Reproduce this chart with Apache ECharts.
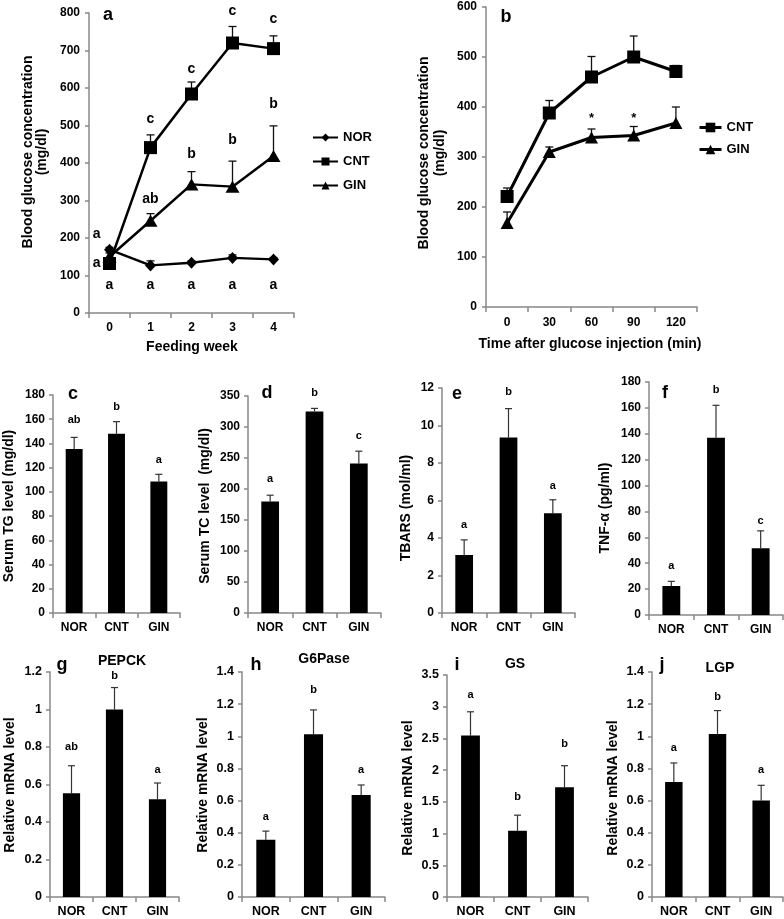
<!DOCTYPE html>
<html><head><meta charset="utf-8">
<script src="https://cdn.jsdelivr.net/npm/echarts@6/dist/echarts.min.js"></script>
<style>html,body{margin:0;padding:0;background:#fff}#c{width:784px;height:919px}</style>
</head><body><div id="c"></div><script>
// ---------- Panel a: blood glucose over feeding weeks ----------
const weeks = ['0', '1', '2', '3', '4'];
const aNOR = [169, 127, 134, 147, 143];
const aNORerr = [6, 12, 5, 8, 5];
const aCNT = [132, 441, 584, 720, 705];
const aCNTerr = [8, 34, 32, 44, 34];
const aGIN = [150, 246, 343, 337, 419];
const aGINerr = [10, 19, 34, 68, 80];
const aLetterText = ['a', 'a', 'a', 'a', 'a', 'a', 'a', 'c', 'ab', 'c', 'b', 'c', 'b', 'c', 'b'];
const aLetterCat = [0, 0, 0, 1, 2, 3, 4, 1, 1, 2, 2, 3, 3, 4, 4];
const aLetterVal = [209, 132, 74, 74, 74, 74, 74, 517, 304, 651, 423, 804, 461, 784, 557];
const aLetterSide = ['L', 'L', 'C', 'C', 'C', 'C', 'C', 'C', 'C', 'C', 'C', 'C', 'C', 'C', 'C'];

// ---------- Panel b: glucose tolerance ----------
const minutes = ['0', '30', '60', '90', '120'];
const bCNT = [221, 388, 460, 500, 471];
const bCNTerr = [17, 25, 41, 42, 12];
const bGIN = [168, 310, 339, 343, 368];
const bGINerr = [22, 10, 17, 18, 32];
const bStarCat = [2, 3];
const bStarVal = [378, 378];

// ---------- Bar panels ----------
const groups = ['NOR', 'CNT', 'GIN'];
const cVal = [135.5, 148, 108.5], cErr = [9.5, 10, 6], cLet = ['ab', 'b', 'a'], cLetY = [159, 170.5, 126];
const dVal = [180, 325, 241], dErr = [10, 5, 20], dLet = ['a', 'b', 'c'], dLetY = [216, 355, 285];
const eVal = [3.09, 9.36, 5.32], eErr = [0.81, 1.54, 0.72], eLet = ['a', 'b', 'a'], eLetY = [4.68, 11.8, 6.77];
const fVal = [22.4, 137, 51.6], fErr = [3.6, 25, 13.4], fLet = ['a', 'b', 'c'], fLetY = [38, 174, 73];
const gVal = [0.553, 1.0, 0.521], gErr = [0.147, 0.117, 0.087], gLet = ['ab', 'b', 'a'], gLetY = [0.80, 1.18, 0.68];
const hVal = [0.357, 1.012, 0.635], hErr = [0.053, 0.152, 0.062], hLet = ['a', 'b', 'a'], hLetY = [0.498, 1.286, 0.79];
const iVal = [2.545, 1.044, 1.73], iErr = [0.375, 0.246, 0.34], iLet = ['a', 'b', 'b'], iLetY = [3.18, 1.57, 2.41];
const jVal = [0.716, 1.015, 0.60], jErr = [0.118, 0.145, 0.095], jLet = ['a', 'b', 'a'], jLetY = [0.927, 1.243, 0.79];

const FONT = '"Liberation Sans", Arial, Helvetica, sans-serif';
const AX = '#888';
const grids = [], xAxes = [], yAxes = [], series = [];

function addPanel(g, cats, ymax, yint, o) {
  const i = grids.length;
  grids.push({left: g[0], top: g[1], width: g[2], height: g[3]});
  xAxes.push({type: 'category', gridIndex: i, data: cats, boundaryGap: true,
    axisLine: {lineStyle: {color: AX, width: 1.5}},
    axisTick: {show: true, length: 5, lineStyle: {color: AX, width: 1.5}},
    axisLabel: {interval: 0, margin: o.xm, fontSize: o.xf, fontWeight: 'bold', color: '#000', fontFamily: FONT},
    splitLine: {show: false}});
  yAxes.push({type: 'value', gridIndex: i, min: 0, max: ymax, interval: yint,
    axisLine: {show: true, lineStyle: {color: AX, width: 1.5}},
    axisTick: {show: true, length: 4, lineStyle: {color: AX, width: 1.5}},
    axisLabel: {margin: o.ym, fontSize: o.yf, fontWeight: 'bold', color: '#000', fontFamily: FONT},
    splitLine: {show: false}});
  return i;
}

function errSeries(i, vals, errs, color, lw, cap) {
  return {type: 'custom', xAxisIndex: i, yAxisIndex: i, silent: true,
    data: vals.map((v, k) => [k, v, v + errs[k]]),
    encode: {x: 0, y: [1, 2]},
    renderItem: (p, api) => {
      const a = api.coord([api.value(0), api.value(1)]);
      const b = api.coord([api.value(0), api.value(2)]);
      return {type: 'group', children: [
        {type: 'line', shape: {x1: a[0], y1: a[1], x2: b[0], y2: b[1]}, style: {stroke: color, lineWidth: lw}},
        {type: 'line', shape: {x1: b[0] - cap, y1: b[1], x2: b[0] + cap, y2: b[1]}, style: {stroke: color, lineWidth: lw}}
      ]};
    }};
}

function textSeries(i, cats, vals, texts, size, sides) {
  return {type: 'custom', xAxisIndex: i, yAxisIndex: i, silent: true, z: 5,
    data: vals.map((v, k) => [cats[k], v]),
    encode: {x: 0, y: 1},
    renderItem: (p, api) => {
      const c = api.coord([api.value(0), api.value(1)]);
      const side = sides ? sides[p.dataIndex] : 'C';
      return {type: 'text', x: side === 'L' ? c[0] - 9 : c[0], y: c[1],
        style: {text: texts[p.dataIndex], font: 'bold ' + size + 'px ' + FONT, fill: '#000',
          align: side === 'L' ? 'right' : 'center', textAlign: side === 'L' ? 'right' : 'center',
          verticalAlign: 'middle', textVerticalAlign: 'middle'}};
    }};
}

// Panel a
const pa = addPanel([89, 13, 205, 300], weeks, 800, 100, {xm: 9, xf: 12, ym: 9, yf: 12});
series.push(errSeries(pa, aNOR, aNORerr, '#111', 1.3, 4));
series.push(errSeries(pa, aCNT, aCNTerr, '#111', 1.3, 4));
series.push(errSeries(pa, aGIN, aGINerr, '#111', 1.3, 4));
series.push({type: 'line', name: 'NOR', xAxisIndex: pa, yAxisIndex: pa, data: aNOR, symbol: 'diamond', symbolSize: [11, 12],
  lineStyle: {color: '#000', width: 2.5}, itemStyle: {color: '#000'}, z: 3});
series.push({type: 'line', name: 'CNT', xAxisIndex: pa, yAxisIndex: pa, data: aCNT, symbol: 'rect', symbolSize: 13,
  lineStyle: {color: '#000', width: 2.5}, itemStyle: {color: '#000'}, z: 3});
series.push({type: 'line', name: 'GIN', xAxisIndex: pa, yAxisIndex: pa, data: aGIN, symbol: 'triangle', symbolSize: [14, 12],
  lineStyle: {color: '#000', width: 2.5}, itemStyle: {color: '#000'}, z: 3});
series.push(textSeries(pa, aLetterCat, aLetterVal, aLetterText, 14, aLetterSide));

// Panel b
const pb = addPanel([486, 7, 211, 300], minutes, 600, 100, {xm: 10, xf: 12, ym: 9, yf: 12});
series.push(errSeries(pb, bCNT, bCNTerr, '#111', 1.3, 4));
series.push(errSeries(pb, bGIN, bGINerr, '#111', 1.3, 4));
series.push({type: 'line', name: 'CNT', xAxisIndex: pb, yAxisIndex: pb, data: bCNT, symbol: 'rect', symbolSize: 13,
  lineStyle: {color: '#000', width: 3}, itemStyle: {color: '#000'}, z: 3});
series.push({type: 'line', name: 'GIN', xAxisIndex: pb, yAxisIndex: pb, data: bGIN, symbol: 'triangle', symbolSize: [13, 12],
  lineStyle: {color: '#000', width: 3}, itemStyle: {color: '#000'}, z: 3});
series.push(textSeries(pb, bStarCat, bStarVal, ['*', '*'], 13, null));

// Bar panels
function barPanel(g, ymax, yint, vals, errs, lets, letY, o) {
  const i = addPanel(g, groups, ymax, yint, o);
  series.push({type: 'bar', xAxisIndex: i, yAxisIndex: i, data: vals, barWidth: '40%',
    itemStyle: {color: '#000'}});
  series.push(errSeries(i, vals, errs, '#333', 1.2, 3.5));
  series.push(textSeries(i, [0, 1, 2], letY, lets, 11, null));
}
const oMid = {xm: 9, xf: 12, ym: 8, yf: 12};
const oLow = {xm: 8, xf: 12.5, ym: 8, yf: 12.5};
barPanel([53, 395, 127, 218], 180, 20, cVal, cErr, cLet, cLetY, oMid);
barPanel([248, 396, 133, 217], 350, 50, dVal, dErr, dLet, dLetY, oMid);
barPanel([442, 388, 133, 225], 12, 2, eVal, eErr, eLet, eLetY, oMid);
barPanel([649, 382, 134, 233], 180, 20, fVal, fErr, fLet, fLetY, oMid);
barPanel([50, 672, 129, 225], 1.2, 0.2, gVal, gErr, gLet, gLetY, oLow);
barPanel([242, 672, 143, 225], 1.4, 0.2, hVal, hErr, hLet, hLetY, oLow);
barPanel([447, 675, 141, 222], 3.5, 0.5, iVal, iErr, iLet, iLetY, oLow);
barPanel([652, 672, 131, 225], 1.4, 0.2, jVal, jErr, jLet, jLetY, oLow);

// Texts
function txt(s, x, y, size, rot) {
  return {type: 'text', x: x, y: y, rotation: rot ? Math.PI / 2 : 0, silent: true,
    style: {text: s, font: 'bold ' + size + 'px ' + FONT, fill: '#000',
      align: 'center', textAlign: 'center', verticalAlign: 'middle', textVerticalAlign: 'middle'}};
}
const graphics = [
  txt('Blood glucose concentration', 28, 152, 14, true),
  txt('(mg/dl)', 42, 152, 14, true),
  txt('Blood glucose concentration', 424, 153, 14, true),
  txt('(mg/dl)', 440, 153, 14, true),
  txt('Feeding week', 192, 347, 14),
  txt('Time after glucose injection (min)', 590, 344, 14),
  txt('Serum TG level (mg/dl)', 9, 506, 14, true),
  txt('Serum TC level  (mg/dl)', 205, 506, 14, true),
  txt('TBARS (mol/ml)', 406, 508, 14, true),
  txt('TNF-α (pg/ml)', 605, 508, 14, true),
  txt('Relative mRNA level', 10, 785, 14, true),
  txt('Relative mRNA level', 203, 785, 14, true),
  txt('Relative mRNA level', 408, 788, 14, true),
  txt('Relative mRNA level', 613, 788, 14, true),
  txt('a', 108, 15, 18), txt('b', 506, 17, 18),
  txt('c', 73, 394, 18), txt('d', 267, 393, 18), txt('e', 457, 394, 18), txt('f', 665, 393, 18),
  txt('g', 62, 665, 18), txt('h', 256, 665, 18), txt('i', 457, 665, 18), txt('j', 662, 665, 18),
  txt('PEPCK', 122, 661, 14), txt('G6Pase', 324, 659, 14), txt('GS', 515, 664, 14), txt('LGP', 720, 668, 14)
];

const legendText = {fontSize: 13, fontWeight: 'bold', fontFamily: FONT, color: '#000'};
const chart = echarts.init(document.getElementById('c'), null, {renderer: 'canvas'});
chart.setOption({
  animation: false,
  backgroundColor: '#fff',
  grid: grids, xAxis: xAxes, yAxis: yAxes, series: series,
  legend: [
    {data: ['NOR', 'CNT', 'GIN'], orient: 'vertical', left: 307, top: 126, itemWidth: 25, itemHeight: 10,
      itemGap: 11, selectedMode: false, textStyle: legendText, lineStyle: {width: 2}},
    {data: ['CNT', 'GIN'], orient: 'vertical', left: 693, top: 116, itemWidth: 22, itemHeight: 12,
      itemGap: 9, selectedMode: false, textStyle: legendText, lineStyle: {width: 3}}
  ],
  graphic: graphics
});
</script></body></html>
